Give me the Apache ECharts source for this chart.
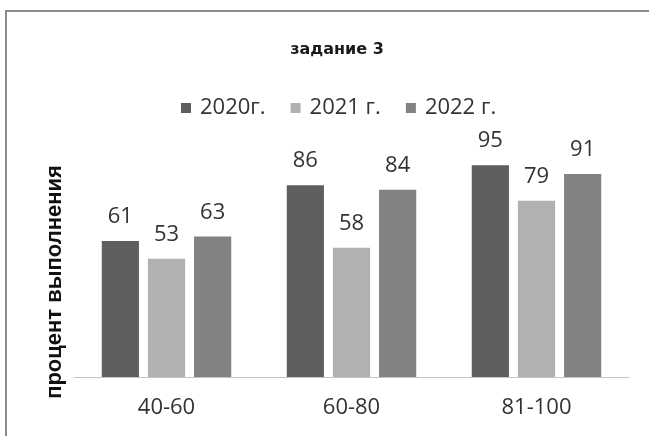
<!DOCTYPE html>
<html>
<head>
<meta charset="utf-8">
<script src="https://cdn.jsdelivr.net/npm/echarts@6/dist/echarts.min.js"></script>
<style>
html,body{margin:0;padding:0;background:#fff;}
#chart{width:649px;height:436px;}
</style>
</head>
<body>
<div id="chart"></div>
<script>
const categories = ['40-60', '60-80', '81-100'];
const seriesNames = ['2020г.', '2021 г.', '2022 г.'];
const values2020 = [61, 86, 95];
const values2021 = [53, 58, 79];
const values2022 = [63, 84, 91];
const titleText = 'задание 3';
const yAxisName = 'процент выполнения';

const colors = ['#5f5f5f', '#b1b1b1', '#828282'];
const dataSets = [values2020, values2021, values2022];
const labelFont = '"Open Sans", "Liberation Sans", sans-serif';

const chart = echarts.init(document.getElementById('chart'), null, {renderer: 'canvas'});
chart.setOption({
  animation: false,
  backgroundColor: '#ffffff',
  color: colors,
  title: {
    text: titleText,
    left: 332,
    top: 37,
    textAlign: 'center',
    textStyle: {fontFamily: '"DejaVu Sans", sans-serif', fontWeight: 'bold', fontSize: 16, color: '#1a1a1a'}
  },
  legend: {
    top: 92,
    left: 176,
    itemWidth: 10,
    itemHeight: 10,
    itemGap: 25,
    icon: 'rect',
    data: seriesNames,
    textStyle: {fontFamily: labelFont, fontSize: 22, color: '#333', padding: [0, 0, 0, 4]}
  },
  grid: {left: 74, right: 20, top: 154, bottom: 59, containLabel: false},
  xAxis: {
    type: 'category',
    data: categories,
    axisLine: {lineStyle: {color: '#c4c4c4', width: 1}},
    axisTick: {show: false},
    axisLabel: {fontFamily: labelFont, fontSize: 22, color: '#333', margin: 20}
  },
  yAxis: {
    type: 'value',
    min: 0,
    max: 100,
    axisLine: {show: false},
    axisTick: {show: false},
    axisLabel: {show: false},
    splitLine: {show: false}
  },
  series: seriesNames.map((name, i) => ({
    name: name,
    type: 'bar',
    data: dataSets[i],
    barGap: '24%',
    barCategoryGap: '30%',
    itemStyle: {color: colors[i]},
    label: {show: true, position: 'top', distance: 13, fontFamily: labelFont, fontSize: 22, color: '#333'}
  })),
  graphic: [{
    type: 'polyline',
    shape: {points: [[6, 450], [6, 11], [660, 11]]},
    style: {fill: 'none', stroke: '#8c8c8c', lineWidth: 2},
    silent: true
  }, {
    type: 'text',
    x: 55,
    y: 282,
    rotation: Math.PI / 2,
    style: {
      text: yAxisName,
      fontFamily: '"Liberation Sans", Arial, sans-serif',
      fontWeight: 'bold',
      fontSize: 22,
      fill: '#111',
      textAlign: 'center',
      textVerticalAlign: 'middle'
    },
    silent: true
  }]
});
</script>
</body>
</html>
